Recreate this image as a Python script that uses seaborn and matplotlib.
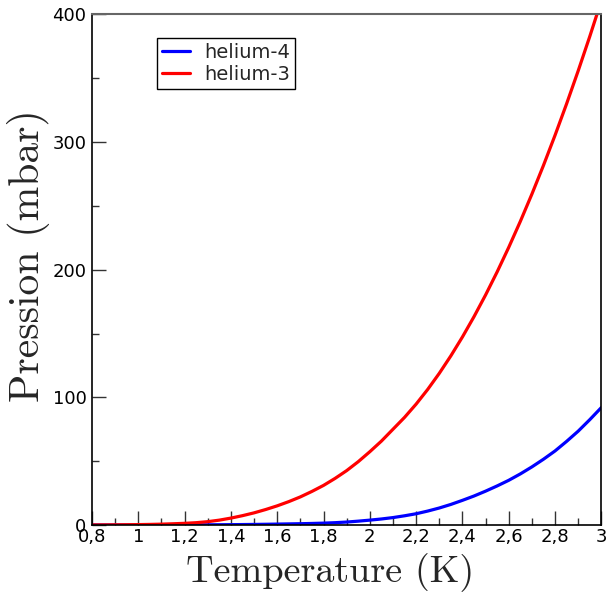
import numpy as np
import pandas as pd
import matplotlib
matplotlib.use("Agg")
import matplotlib.pyplot as plt
import seaborn as sns
from matplotlib.ticker import MultipleLocator, FuncFormatter

# valeurs (T en K, P en mbar)
temperature = [0.8, 0.85, 0.9, 0.95, 1.0, 1.05, 1.1, 1.15, 1.2, 1.25, 1.3, 1.35,
               1.4, 1.45, 1.5, 1.55, 1.6, 1.65, 1.7, 1.75, 1.8, 1.85, 1.9, 1.95,
               2.0, 2.05, 2.1, 2.15, 2.2, 2.25, 2.3, 2.35, 2.4, 2.45, 2.5, 2.55,
               2.6, 2.65, 2.7, 2.75, 2.8, 2.85, 2.9, 2.95, 3.0]
p_helium4 = [0.0, 0.0, 0.01, 0.01, 0.02, 0.03, 0.04, 0.06, 0.08, 0.11, 0.15, 0.2,
             0.26, 0.34, 0.44, 0.56, 0.7, 0.85, 1.0, 1.2, 1.45, 1.8, 2.3, 3.0,
             3.8, 4.7, 5.8, 7.2, 8.8, 10.9, 13.3, 16.1, 19.3, 22.7, 26.5, 30.6,
             35.0, 40.0, 45.5, 51.5, 58.0, 65.5, 73.5, 82.5, 92.0]
p_helium3 = [0.05, 0.08, 0.13, 0.2, 0.3, 0.45, 0.65, 0.95, 1.3, 1.8, 2.6, 3.8,
             5.4, 7.3, 9.5, 12.1, 15.0, 18.3, 22.0, 26.3, 31.0, 36.5, 42.6, 49.6,
             57.4, 65.7, 75.0, 84.3, 94.7, 106.2, 118.8, 132.5, 147.3, 163.2, 180.2, 198.3,
             217.5, 237.8, 259.2, 281.7, 305.3, 330.0, 355.8, 382.7, 410.7]
labels = ["helium-4", "helium-3"]
colors = ["blue", "red"]

df = pd.DataFrame({
    "T": temperature * 2,
    "P": p_helium4 + p_helium3,
    "fluide": [labels[0]] * len(temperature) + [labels[1]] * len(temperature),
})

sns.set_theme(style="white")
plt.rcParams["font.family"] = ["DejaVu Sans"]

fig = plt.figure(figsize=(6.1, 5.93), dpi=100)
ax = fig.add_axes([0.1508, 0.1147, 0.835, 0.861])

sns.lineplot(data=df, x="T", y="P", hue="fluide", hue_order=labels,
             palette=dict(zip(labels, colors)), linewidth=2.3, ax=ax)

ax.set_xlim(0.8, 3.0)
ax.set_ylim(0, 400)
ax.xaxis.set_major_locator(MultipleLocator(0.2))
ax.xaxis.set_minor_locator(MultipleLocator(0.1))
ax.yaxis.set_major_locator(MultipleLocator(100))
ax.yaxis.set_minor_locator(MultipleLocator(50))
ax.xaxis.set_major_formatter(FuncFormatter(lambda v, p: f"{v:g}".replace(".", ",")))

ax.tick_params(which="both", direction="in", top=False, right=False,
               bottom=True, left=True, width=1, colors="#333333",
               labelcolor="black", labelsize=13)
ax.tick_params(which="major", length=10)
ax.tick_params(which="minor", length=5)
ax.tick_params(axis="x", pad=2)
ax.tick_params(axis="y", pad=4)

for side in ["left", "bottom", "right"]:
    ax.spines[side].set_color("black")
    ax.spines[side].set_linewidth(1.2)
ax.spines["top"].set_color("#666666")
ax.spines["top"].set_linewidth(1.5)

ax.set_xlabel("Temperature (K)", fontsize=27.5, fontfamily="cmr10")
ax.set_ylabel("Pression (mbar)", fontsize=30, fontfamily="cmr10")
ax.xaxis.set_label_coords(0.467, -0.056)
ax.yaxis.set_label_coords(-0.082, 0.528)

leg = ax.legend(loc="upper left", bbox_to_anchor=(0.127, 0.953), borderaxespad=0,
                fontsize=14, frameon=True, fancybox=False, handlelength=1.45,
                handletextpad=0.75, labelspacing=0.15, borderpad=0.25)
leg.get_frame().set_edgecolor("black")
leg.get_frame().set_linewidth(1.0)
leg.get_frame().set_alpha(1)
leg.set_title(None)

fig.savefig("out.png", dpi=100)
